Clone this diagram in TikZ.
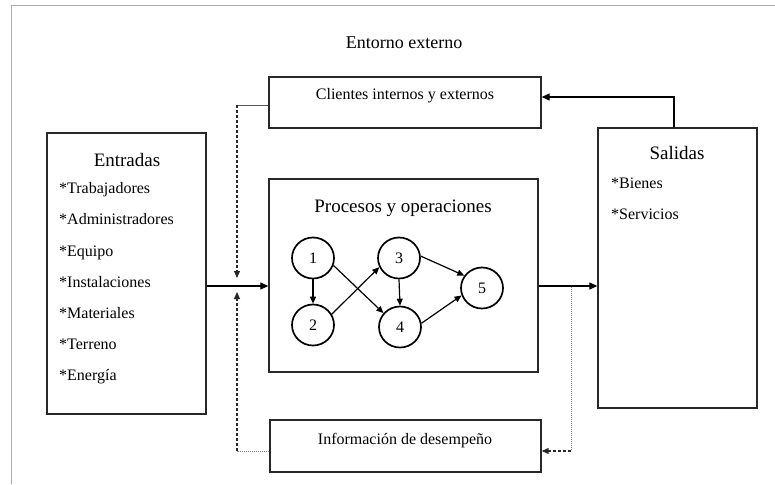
\documentclass[tikz,border=0pt]{standalone}
\usepackage{fontspec}
\setmainfont{Liberation Serif}
\usetikzlibrary{arrows.meta,shapes.geometric}
\definecolor{framegreen}{RGB}{160,190,110}
\definecolor{boxline}{RGB}{40,40,40}
\tikzset{
  box/.style={draw=boxline,line width=1.4pt,minimum width=#1,inner sep=0pt},
  proc/.style={ellipse,draw=black,line width=1.7pt,minimum width=42pt,minimum height=41pt,inner sep=0pt,font=\fontsize{16}{18}\selectfont},
  arr/.style={draw=black,line width=1.3pt,-{Triangle[length=8pt,width=7pt]}},
  parr/.style={draw=black,line width=1.2pt,-{Triangle[length=7pt,width=6pt]}},
  dasharr/.style={draw=boxline,line width=1.1pt,dash pattern=on 3pt off 2pt,-{Triangle[length=7pt,width=6pt]}},
  thinline/.style={draw=gray!70!black,line width=0.8pt},
  dotline/.style={draw=gray,line width=0.9pt,dash pattern=on 1pt off 1pt},
  item/.style={anchor=mid west,inner sep=0pt,font=\fontsize{16}{19}\selectfont},
  head/.style={inner sep=0pt,font=\fontsize{19}{22}\selectfont},
  lbl/.style={inner sep=0pt,font=\fontsize{16}{19}\selectfont}
}
\begin{document}
\begin{tikzpicture}[x=1pt,y=-1pt]
\useasboundingbox (0,0) rectangle (775,484);
% frame
\draw[framegreen,line width=1.6pt] (11.5,484) -- (11.5,5.5) -- (775,5.5);

\node[lbl,font=\fontsize{18}{21}\selectfont] (env) at (404,43) {Entorno externo};

% boxes
\node[box=272pt,minimum height=51pt] (cli) at (405,102.5) {};
\node[lbl] (clit) at (405,96) {Clientes internos y externos};

\node[box=159pt,minimum height=281pt] (ent) at (126.5,273.5) {};
\node[head] (entt) at (127,160) {Entradas};
\node[item] (e1) at (59,191) {*Trabajadores};
\node[item] (e2) at (59,222) {*Administradores};
\node[item] (e3) at (59,254) {*Equipo};
\node[item] (e4) at (59,285) {*Instalaciones};
\node[item] (e5) at (59,316) {*Materiales};
\node[item] (e6) at (59,347) {*Terreno};
\node[item] (e7) at (59,378) {*Energía};

\node[box=269pt,minimum height=193pt] (pro) at (403.5,275.5) {};
\node[head] (prot) at (403,208) {Procesos y operaciones};

\node[box=159pt,minimum height=280pt] (sal) at (677.5,268) {};
\node[head] (salt) at (677,153) {Salidas};
\node[item] (s1) at (611,186) {*Bienes};
\node[item] (s2) at (611,217) {*Servicios};

\node[box=271pt,minimum height=52pt] (info) at (405.5,446) {};
\node[lbl] (infot) at (405,441) {Información de desempeño};

% process graph
\node[proc] (n1) at (313,258) {1};
\node[proc] (n2) at (313,325) {2};
\node[proc] (n3) at (399,258) {3};
\node[proc] (n4) at (400,327) {4};
\node[proc] (n5) at (482,288) {5};
\draw[parr] (n1.south) -- (n2.north);
\draw[parr] (n3.south) -- (n4.north);
\draw[parr] (n1.-20) -- (n4.140);
\draw[parr] (n2.30) -- (n3.205);
\draw[parr] (n3.5) -- (n5.145);
\draw[parr] (n4.10) -- (n5.200);

% main flow
\coordinate (flow) at (0,286);
\draw[arr] (ent.east |- flow) -- (pro.west |- flow);
\draw[arr] (pro.east |- flow) -- (sal.west |- flow);

% top feedback
\coordinate (fb) at (674,97);
\draw[arr] (sal.north -| fb) |- (cli.east |- fb);

% left dashed feedbacks
\coordinate (lt0) at (237,105);
\coordinate (lt1) at (237,278);
\draw[thinline] (cli.west |- lt0) -- (lt0);
\draw[dasharr] (lt0) -- (lt1);
\coordinate (lb0) at (237,451);
\coordinate (lb1) at (237,292);
\draw[dotline] (info.west |- lb0) -- (lb0);
\draw[dasharr] (lb0) -- (lb1);

% right dotted to info
\coordinate (rt) at (571,287);
\coordinate (rb) at (571,451);
\draw[dotline] (rt) -- (rb);
\draw[dasharr] (rb) -- (info.east |- rb);
\end{tikzpicture}
\end{document}
